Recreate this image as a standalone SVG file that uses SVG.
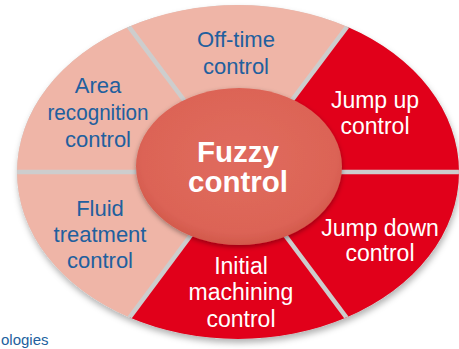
<svg xmlns="http://www.w3.org/2000/svg" width="459" height="349" viewBox="0 0 459 349">
  <defs>
    <style>
      .pale { fill: #efb5a7; }
      .hot { fill: #e1001a; }
      .lbl { font-family: "Liberation Sans", Arial, sans-serif; font-size: 22px; text-anchor: middle; }
      .blue { fill: #215f9e; }
      .white { fill: #ffffff; font-size: 23px; }
      .hub-text { font-family: "Liberation Sans", Arial, sans-serif; font-size: 29.5px; font-weight: bold; fill: #ffffff; text-anchor: middle; }
      .gap { stroke: #cdcdcd; stroke-width: 4.5; fill: none; }
    </style>
    <filter id="ringShadow" x="-10%" y="-10%" width="120%" height="125%">
      <feDropShadow dx="1" dy="4" stdDeviation="3" flood-color="#000000" flood-opacity="0.3"/>
    </filter>
    <filter id="hubShadow" x="-15%" y="-15%" width="130%" height="135%">
      <feDropShadow dx="0" dy="2" stdDeviation="2.5" flood-color="#000000" flood-opacity="0.35"/>
    </filter>
    <radialGradient id="hubFill" cx="50%" cy="45%" r="55%">
      <stop offset="0" stop-color="#e06b5e"/>
      <stop offset="0.85" stop-color="#dc6456"/>
      <stop offset="1" stop-color="#d2584b"/>
    </radialGradient>
    <clipPath id="ringClip">
      <ellipse cx="238" cy="172" rx="221" ry="167"/>
    </clipPath>
  </defs>

  <!-- base of the ring (shows through the gaps) -->
  <ellipse cx="238" cy="172" rx="221" ry="167" fill="#cdcdcd" filter="url(#ringShadow)"/>

  <!-- ring segments -->
  <g id="area-recognition">
    <path class="pale" d="M238,172 L17,172 A221,167 0 0 1 128.84,26.79 Z"/>
  </g>
  <g id="off-time">
    <path class="pale" d="M238,172 L128.84,26.79 A221,167 0 0 1 347.16,26.79 Z"/>
  </g>
  <g id="jump-up">
    <path class="hot" d="M238,172 L347.16,26.79 A221,167 0 0 1 459,172 Z"/>
  </g>
  <g id="jump-down">
    <path class="hot" d="M238,172 L459,172 A221,167 0 0 1 346.4,317.53 Z"/>
  </g>
  <g id="initial-machining">
    <path class="hot" d="M238,172 L346.4,317.53 A221,167 0 0 1 129.6,317.53 Z"/>
  </g>
  <g id="fluid-treatment">
    <path class="pale" d="M238,172 L129.6,317.53 A221,167 0 0 1 17,172 Z"/>
  </g>

  <!-- separators between segments -->
  <g id="connectors" clip-path="url(#ringClip)">
    <line class="gap" x1="238" y1="172" x2="10" y2="172"/>
    <line class="gap" x1="238" y1="172" x2="466" y2="172"/>
    <line class="gap" x1="238" y1="172" x2="124.3" y2="20.7"/>
    <line class="gap" x1="238" y1="172" x2="351.7" y2="20.7"/>
    <line class="gap" x1="238" y1="172" x2="125.2" y2="323.4"/>
    <line class="gap" x1="238" y1="172" x2="350.8" y2="323.4"/>
  </g>

  <!-- hub -->
  <g id="fuzzy-control">
    <ellipse cx="239" cy="166.5" rx="103" ry="78.5" fill="url(#hubFill)" filter="url(#hubShadow)"/>
    <text class="hub-text" x="238" y="162">Fuzzy</text>
    <text class="hub-text" x="238" y="192">control</text>
  </g>

  <!-- segment labels -->
  <g id="labels">
    <text class="lbl blue" x="236" y="47">Off-time</text>
    <text class="lbl blue" x="236" y="74">control</text>

    <text class="lbl blue" x="98" y="93">Area</text>
    <text class="lbl blue" x="98" y="120" textLength="101" lengthAdjust="spacingAndGlyphs">recognition</text>
    <text class="lbl blue" x="98" y="147">control</text>

    <text class="lbl blue" x="100" y="216">Fluid</text>
    <text class="lbl blue" x="100" y="242">treatment</text>
    <text class="lbl blue" x="100" y="268">control</text>

    <text class="lbl white" x="375" y="108">Jump up</text>
    <text class="lbl white" x="375" y="134">control</text>

    <text class="lbl white" x="380" y="236">Jump down</text>
    <text class="lbl white" x="380" y="261">control</text>

    <text class="lbl white" x="241" y="274">Initial</text>
    <text class="lbl white" x="241" y="300">machining</text>
    <text class="lbl white" x="241" y="327">control</text>
  </g>

  <text x="1" y="345" font-family="Liberation Sans, Arial, sans-serif" font-size="15" fill="#215f9e">ologies</text>
</svg>
